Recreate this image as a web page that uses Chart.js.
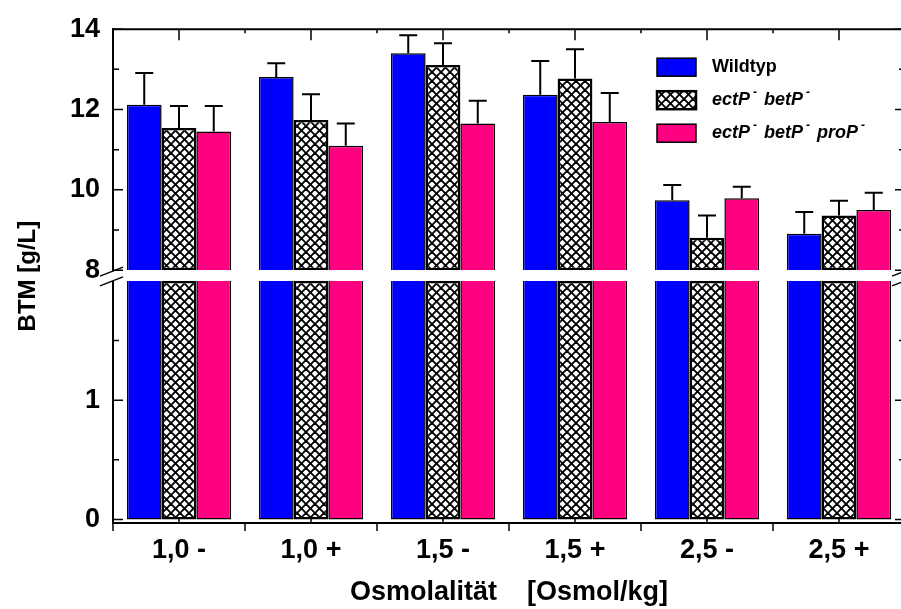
<!DOCTYPE html>
<html>
<head>
<meta charset="utf-8">
<script src="https://cdn.jsdelivr.net/npm/chart.js@4.4.1/dist/chart.umd.min.js"></script>
<style>
html, body { margin: 0; padding: 0; overflow: hidden; background: #fff; }
#wrap { width: 915px; height: 609px; }
</style>
</head>
<body>
<div id="wrap"><canvas id="btmChart"></canvas></div>
<script>
// values (g/L), error = upper whisker length
const categories = ['1,0 -', '1,0 +', '1,5 -', '1,5 +', '2,5 -', '2,5 +'];
const seriesNames = ['Wildtyp', 'ectP⁻ betP⁻', 'ectP⁻ betP⁻ proP⁻'];
const wildtyp = [12.12, 12.81, 13.40, 12.37, 9.74, 8.91];
const ectBet = [11.54, 11.74, 13.11, 12.77, 8.81, 9.36];
const ectBetPro = [11.45, 11.10, 11.65, 11.69, 9.79, 9.50];
const wildtypErr = [0.79, 0.34, 0.45, 0.84, 0.38, 0.54];
const ectBetErr = [0.55, 0.64, 0.54, 0.73, 0.55, 0.37];
const ectBetProErr = [0.64, 0.55, 0.57, 0.72, 0.29, 0.43];
const upperTicks = [8, 10, 12, 14];
const upperMinor = [9, 11, 13];
const lowerTicks = [0, 1];
const lowerMinor = [0.5, 1.5];
const breakLow = 2;
const breakHigh = 8;

const FONT = "'Liberation Sans', Arial, sans-serif";

function crossHatch() {
    const n = 9;
    const c = document.createElement('canvas');
    c.width = n; c.height = n;
    const g = c.getContext('2d');
    g.fillStyle = '#fff';
    g.fillRect(0, 0, n, n);
    g.strokeStyle = '#000';
    g.lineWidth = 1.9;
    for (const k of [-n, 0, n]) {
        g.beginPath(); g.moveTo(k, 0); g.lineTo(k + n, n); g.stroke();
        g.beginPath(); g.moveTo(k + n, 0); g.lineTo(k, n); g.stroke();
    }
    return g.createPattern(c, 'repeat');
}

const hatch = crossHatch();
const series = [
    { label: seriesNames[0], values: wildtyp, errors: wildtypErr, fill: '#0000ff', bw: 1.5, skip: true },
    { label: seriesNames[1], values: ectBet, errors: ectBetErr, fill: hatch, bw: 2.5, skip: false },
    { label: seriesNames[2], values: ectBetPro, errors: ectBetProErr, fill: '#ff0080', bw: 1.5, skip: true }
];

const datasets = [];
series.forEach((s, i) => {
    datasets.push({
        label: s.label, panel: 'top', values: s.values, errors: s.errors,
        data: s.values.map(v => [breakHigh, v]),
        yAxisID: 'yTop', stack: 's' + i,
        backgroundColor: s.fill, borderColor: '#000', borderWidth: s.bw,
        borderSkipped: s.skip ? 'bottom' : false
    });
});
series.forEach((s, i) => {
    datasets.push({
        label: s.label, panel: 'bottom',
        data: s.values.map(v => Math.min(v, breakLow)),
        yAxisID: 'yBot', stack: 's' + i,
        backgroundColor: s.fill, borderColor: '#000', borderWidth: s.bw,
        borderSkipped: s.skip ? 'top' : false
    });
});

// legend text with small raised minus signs
function drawLabel(ctx, text, x, y, style) {
    let cx = x;
    for (const part of text.split(/(⁻)/)) {
        if (!part) continue;
        if (part === '⁻') {
            ctx.font = style + '12px ' + FONT;
            cx += 3;
            ctx.fillText('-', cx, y - 8);
            cx += ctx.measureText('-').width + 2;
        } else {
            ctx.font = style + '18px ' + FONT;
            ctx.fillText(part, cx, y);
            cx += ctx.measureText(part).width;
        }
    }
}

// frame, inward ticks, error bars, axis break, legend, y title
const decorations = {
    id: 'decorations',
    afterDatasetsDraw(chart) {
        const { ctx, chartArea: a, scales } = chart;
        const top = scales.yTop, bot = scales.yBot, x = scales.x;
        ctx.save();
        ctx.strokeStyle = '#000';
        ctx.lineWidth = 2;
        ctx.beginPath();
        ctx.moveTo(a.left, a.top); ctx.lineTo(a.right, a.top); ctx.lineTo(a.right, a.bottom);
        ctx.stroke();

        ctx.lineWidth = 1.5;
        const yTick = (scale, v, len) => {
            const y = scale.getPixelForValue(v);
            ctx.beginPath();
            ctx.moveTo(a.left, y); ctx.lineTo(a.left + len, y);
            ctx.moveTo(a.right, y); ctx.lineTo(a.right - len, y);
            ctx.stroke();
        };
        upperTicks.forEach(v => yTick(top, v, 10));
        upperMinor.forEach(v => yTick(top, v, 6));
        lowerTicks.forEach(v => yTick(bot, v, 10));
        lowerMinor.forEach(v => yTick(bot, v, 6));

        const step = x.getPixelForValue(1) - x.getPixelForValue(0);
        ctx.beginPath();
        categories.forEach((c, i) => {
            const cx = x.getPixelForValue(i);
            ctx.moveTo(cx, a.top); ctx.lineTo(cx, a.top + 11);
            ctx.moveTo(cx, a.bottom); ctx.lineTo(cx, a.bottom - 4);
        });
        for (let k = 0; k <= categories.length; k++) {
            const bx = x.getPixelForValue(0) - step / 2 + k * step;
            ctx.moveTo(bx, a.bottom); ctx.lineTo(bx, a.bottom + 8);
            ctx.moveTo(bx, a.top); ctx.lineTo(bx, a.top + 4);
        }
        ctx.stroke();

        // error bars (upper only)
        ctx.lineWidth = 2;
        chart.data.datasets.forEach((ds, i) => {
            if (ds.panel !== 'top') return;
            const meta = chart.getDatasetMeta(i);
            meta.data.forEach((bar, j) => {
                const y0 = top.getPixelForValue(ds.values[j]);
                const y1 = top.getPixelForValue(ds.values[j] + ds.errors[j]);
                ctx.beginPath();
                ctx.moveTo(bar.x, y0); ctx.lineTo(bar.x, y1);
                ctx.moveTo(bar.x - 9, y1); ctx.lineTo(bar.x + 9, y1);
                ctx.stroke();
            });
        });

        // axis break
        const yHi = top.getPixelForValue(breakHigh);
        const yLo = bot.getPixelForValue(breakLow);
        if (yLo > yHi) {
            ctx.fillStyle = '#fff';
            ctx.fillRect(a.left - 4, yHi + 1, a.right - a.left + 8, yLo - yHi - 1);
            ctx.lineWidth = 1.5;
            ctx.beginPath();
            for (const ex of [a.left, a.right]) {
                ctx.moveTo(ex - 13, yHi + 6); ctx.lineTo(ex + 10, yHi - 3);
                ctx.moveTo(ex - 13, yLo + 5); ctx.lineTo(ex + 10, yLo - 4);
            }
            ctx.stroke();
        }
        ctx.restore();
    },
    afterDraw(chart) {
        const { ctx, chartArea: a } = chart;
        ctx.save();
        ctx.fillStyle = '#000';
        ctx.translate(28, (a.top + a.bottom) / 2);
        ctx.rotate(-Math.PI / 2);
        ctx.font = 'bold 24px ' + FONT;
        ctx.textAlign = 'center';
        ctx.textBaseline = 'middle';
        ctx.fillText('BTM [g/L]', 0, 0);
        ctx.restore();

        ctx.save();
        chart.data.datasets.filter(ds => ds.panel === 'top').forEach((ds, i) => {
            const bx = a.left + 544, by = a.top + 29 + i * 33;
            ctx.fillStyle = ds.backgroundColor;
            ctx.fillRect(bx, by, 39, 18);
            ctx.strokeStyle = '#000';
            ctx.lineWidth = ds.borderWidth;
            ctx.strokeRect(bx, by, 39, 18);
            ctx.fillStyle = '#000';
            ctx.textBaseline = 'middle';
            drawLabel(ctx, ds.label, bx + 55, by + 9, i === 0 ? 'bold ' : 'italic bold ');
        });
        ctx.restore();
    }
};

const tickFont = { family: FONT, size: 27, weight: 'bold' };

new Chart(document.getElementById('btmChart'), {
    type: 'bar',
    data: { labels: categories, datasets: datasets },
    options: {
        responsive: true,
        maintainAspectRatio: false,
        animation: false,
        layout: { padding: { top: 23, right: 10, left: 0, bottom: 0 } },
        datasets: { bar: { categoryPercentage: 0.79, barPercentage: 1.0 } },
        plugins: { legend: { display: false }, tooltip: { enabled: false } },
        scales: {
            x: {
                grid: { display: false, drawTicks: false },
                border: { display: true, color: '#000', width: 2 },
                ticks: { color: '#000', font: tickFont, padding: 11 },
                title: {
                    display: true, text: 'Osmolalität    [Osmol/kg]', color: '#000',
                    font: { family: FONT, size: 27, weight: 'bold' }, padding: 0
                },
                afterFit: s => { s.height = 86; }
            },
            // lower segment first so the upper segment is stacked on top
            yBot: {
                type: 'linear', position: 'left', stack: 'y', stackWeight: 256,
                min: -0.03, max: 2.09, stacked: false,
                grid: { display: false, drawTicks: false },
                border: { display: true, color: '#000', width: 2 },
                ticks: { color: '#000', font: tickFont, padding: 13 },
                afterBuildTicks: s => { s.ticks = lowerTicks.map(v => ({ value: v })); },
                afterFit: s => { s.width = 113; }
            },
            yTop: {
                type: 'linear', position: 'left', stack: 'y', stackWeight: 244,
                min: breakHigh, max: 14, stacked: false,
                grid: { display: false, drawTicks: false },
                border: { display: true, color: '#000', width: 2 },
                ticks: { color: '#000', font: tickFont, padding: 13 },
                afterBuildTicks: s => { s.ticks = upperTicks.map(v => ({ value: v })); },
                afterFit: s => { s.width = 113; }
            }
        }
    },
    plugins: [decorations]
});
</script>
</body>
</html>
